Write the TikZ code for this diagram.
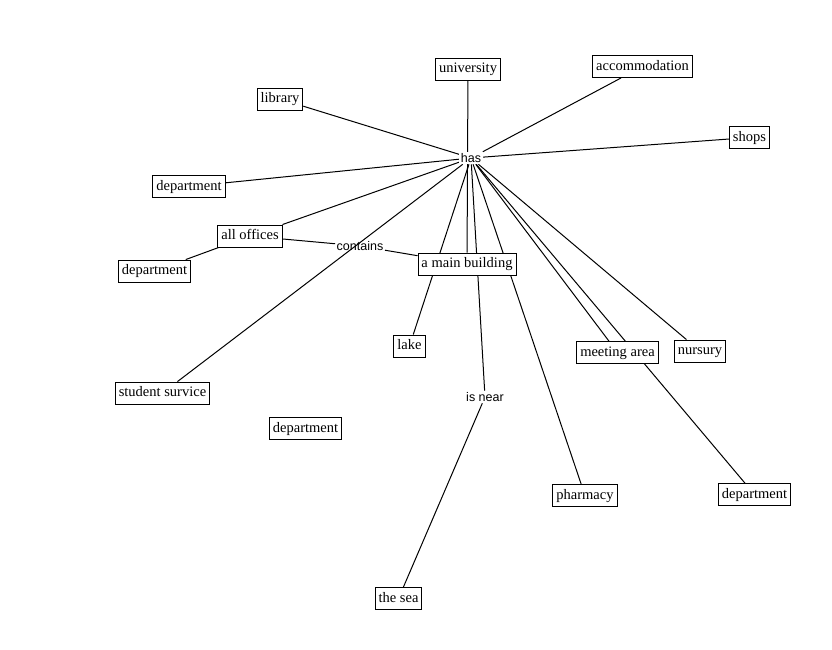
\documentclass[tikz,border=0pt]{standalone}
\usepackage{fontspec}
\setmainfont{Liberation Serif}
\newfontfamily\lblfont{Liberation Sans}
\pgfdeclarelayer{background}
\pgfsetlayers{background,main}
\begin{document}
\begin{tikzpicture}[x=1pt,y=-1pt,
  concept/.style={draw=black,line width=0.9pt,fill=white,font=\fontsize{14.5}{16}\selectfont,inner xsep=3.5pt,inner ysep=0pt,text height=10.5pt,text depth=3.5pt,minimum height=22pt},
  linkword/.style={fill=white,font=\lblfont\fontsize{12.5}{14}\selectfont,inner sep=1.5pt},
  conn/.style={line width=1pt,black}]
\useasboundingbox (0,0) rectangle (832,649);
\path
  (468,69) node[concept] (university) {university}
  (642.5,66.5) node[concept] (accommodation) {accommodation}
  (280,99) node[concept] (library) {library}
  (749.5,137.5) node[concept] (shops) {shops}
  (189,186.5) node[concept] (dept1) {department}
  (250,236) node[concept] (offices) {all offices}
  (154.5,271) node[concept] (dept2) {department}
  (467,264) node[concept] (main) {a main building}
  (409.5,346) node[concept] (lake) {lake}
  (617.5,352.5) node[concept] (meeting) {meeting area}
  (700,351) node[concept] (nursury) {nursury}
  (162.5,393) node[concept] (student) {student survice}
  (305.5,428.5) node[concept] (dept3) {department}
  (585,495.5) node[concept] (pharmacy) {pharmacy}
  (754.5,494.5) node[concept] (dept4) {department}
  (398.5,598.5) node[concept] (sea) {the sea};
\path
  (471,158) node[linkword] (has) {has}
  (360,246) node[linkword,fill=none] (contains) {contains}
  (485,397) node[linkword] (isnear) {is near};
\begin{pgfonlayer}{background}
\fill[white] (0,0) rectangle (832,649);
\draw[conn] (university) -- (main);
\draw[conn] (has) -- (accommodation);
\draw[conn] (has) -- (library);
\draw[conn] (has) -- (shops);
\draw[conn] (has) -- (dept1);
\draw[conn] (has) -- (offices);
\draw[conn] (has) -- (student);
\draw[conn] (has) -- (lake);
\draw[conn] (has) -- (isnear);
\draw[conn] (has) -- (pharmacy);
\draw[conn] (has) -- (meeting);
\draw[conn] (has) -- (dept4);
\draw[conn] (has) -- (nursury);
\draw[conn] (offices) -- (dept2);
\draw[conn] (offices) -- (contains);
\draw[conn] (contains) -- (main);
\draw[conn] (isnear) -- (sea);
\end{pgfonlayer}
\end{tikzpicture}
\end{document}
